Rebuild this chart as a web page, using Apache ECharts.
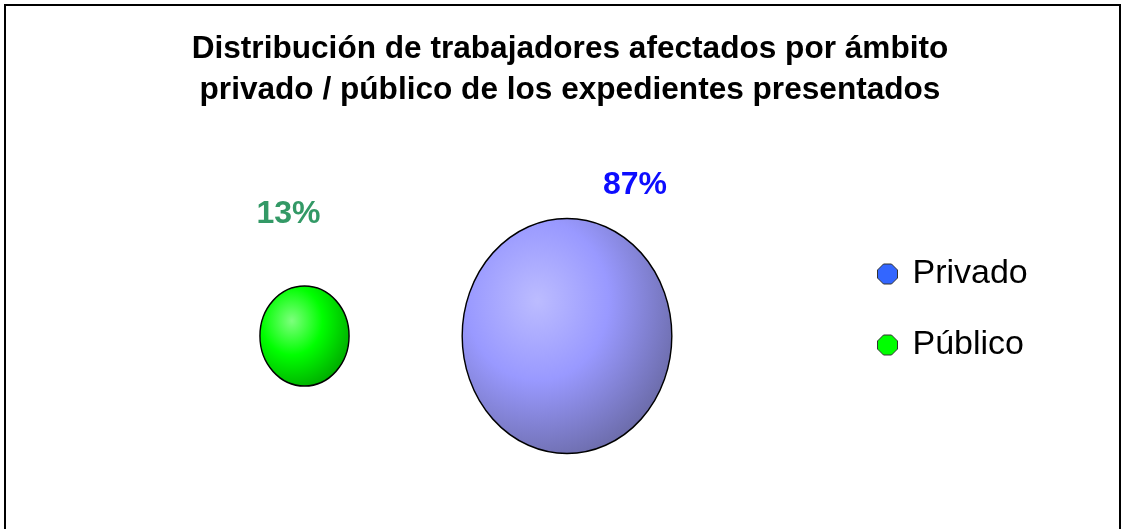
<!DOCTYPE html>
<html>
<head>
<meta charset="utf-8">
<script src="https://cdn.jsdelivr.net/npm/echarts@6/dist/echarts.min.js"></script>
<style>
  html, body { margin: 0; padding: 0; background: #fff; }
  #main { width: 1126px; height: 529px; }
</style>
</head>
<body>
<div id="main"></div>
<script>
// datos del gráfico
var categories = ['Privado', 'Público'];
var xValues = [2, 1];
var yValues = [1, 1];
var shares = [87, 13];
var labelTexts = ['87%', '13%'];

var labelColors = ['#0d0dff', '#339966'];
var legendColors = ['#3366ff', '#00ff00'];
var bubbleStops = [
    ['#bcbcff', '#9999ff', '#66669f'],
    ['#7dff7d', '#00ff00', '#00a000']
];
var labelOffsets = [[68, -151], [-16, -122]];

var fontFamily = 'Arial, "Liberation Sans", sans-serif';

// tamaño de la burbuja según el porcentaje
function bubbleSize(v) {
    var s = Math.pow(v[2], 0.45);
    return [28.1 * s, 31.5 * s];
}

var myChart = echarts.init(document.getElementById('main'));

var series = categories.map(function (name, i) {
    var st = bubbleStops[i];
    return {
        name: name,
        type: 'scatter',
        data: [[xValues[i], yValues[i], shares[i]]],
        symbol: 'circle',
        symbolSize: bubbleSize,
        itemStyle: {
            color: {
                type: 'radial', x: 0.36, y: 0.35, r: 0.75,
                colorStops: [
                    { offset: 0, color: st[0] },
                    { offset: 0.45, color: st[1] },
                    { offset: 1, color: st[2] }
                ]
            },
            borderColor: '#000',
            borderWidth: 1.5,
            opacity: 1
        },
        label: {
            show: true,
            position: 'inside',
            offset: labelOffsets[i],
            formatter: labelTexts[i],
            color: labelColors[i],
            fontSize: 32,
            fontWeight: 'bold',
            fontFamily: fontFamily
        },
        emphasis: { disabled: true }
    };
});

var option = {
    animation: false,
    backgroundColor: '#fff',
    title: {
        text: 'Distribución de trabajadores afectados por ámbito\nprivado / público de los expedientes presentados',
        left: 565,
        textAlign: 'center',
        top: 24,
        textStyle: {
            fontFamily: fontFamily,
            fontSize: 31.6,
            fontWeight: 'bold',
            color: '#000',
            lineHeight: 41
        }
    },
    legend: {
        orient: 'vertical',
        left: 877,
        top: 257,
        padding: 0,
        itemWidth: 20,
        itemHeight: 20,
        itemGap: 37,
        textStyle: {
            fontFamily: fontFamily,
            fontSize: 34,
            color: '#000',
            lineHeight: 34,
            padding: [0, 0, 0, 10]
        },
        data: categories.map(function (name, i) {
            return {
                name: name,
                icon: 'path://M3,0 L7,0 L10,3 L10,7 L7,10 L3,10 L0,7 L0,3 Z',
                itemStyle: { color: legendColors[i], borderColor: '#333', borderWidth: 1 }
            };
        })
    },
    grid: { left: 42, width: 787.5, top: 236, height: 200 },
    xAxis: { type: 'value', min: 0, max: 3, show: false },
    yAxis: { type: 'value', min: 0, max: 2, show: false },
    graphic: [{
        type: 'rect',
        shape: { x: 5, y: 5, width: 1115, height: 600 },
        style: { fill: null, stroke: '#000', lineWidth: 2 },
        silent: true
    }],
    series: series
};

myChart.setOption(option);
</script>
</body>
</html>
